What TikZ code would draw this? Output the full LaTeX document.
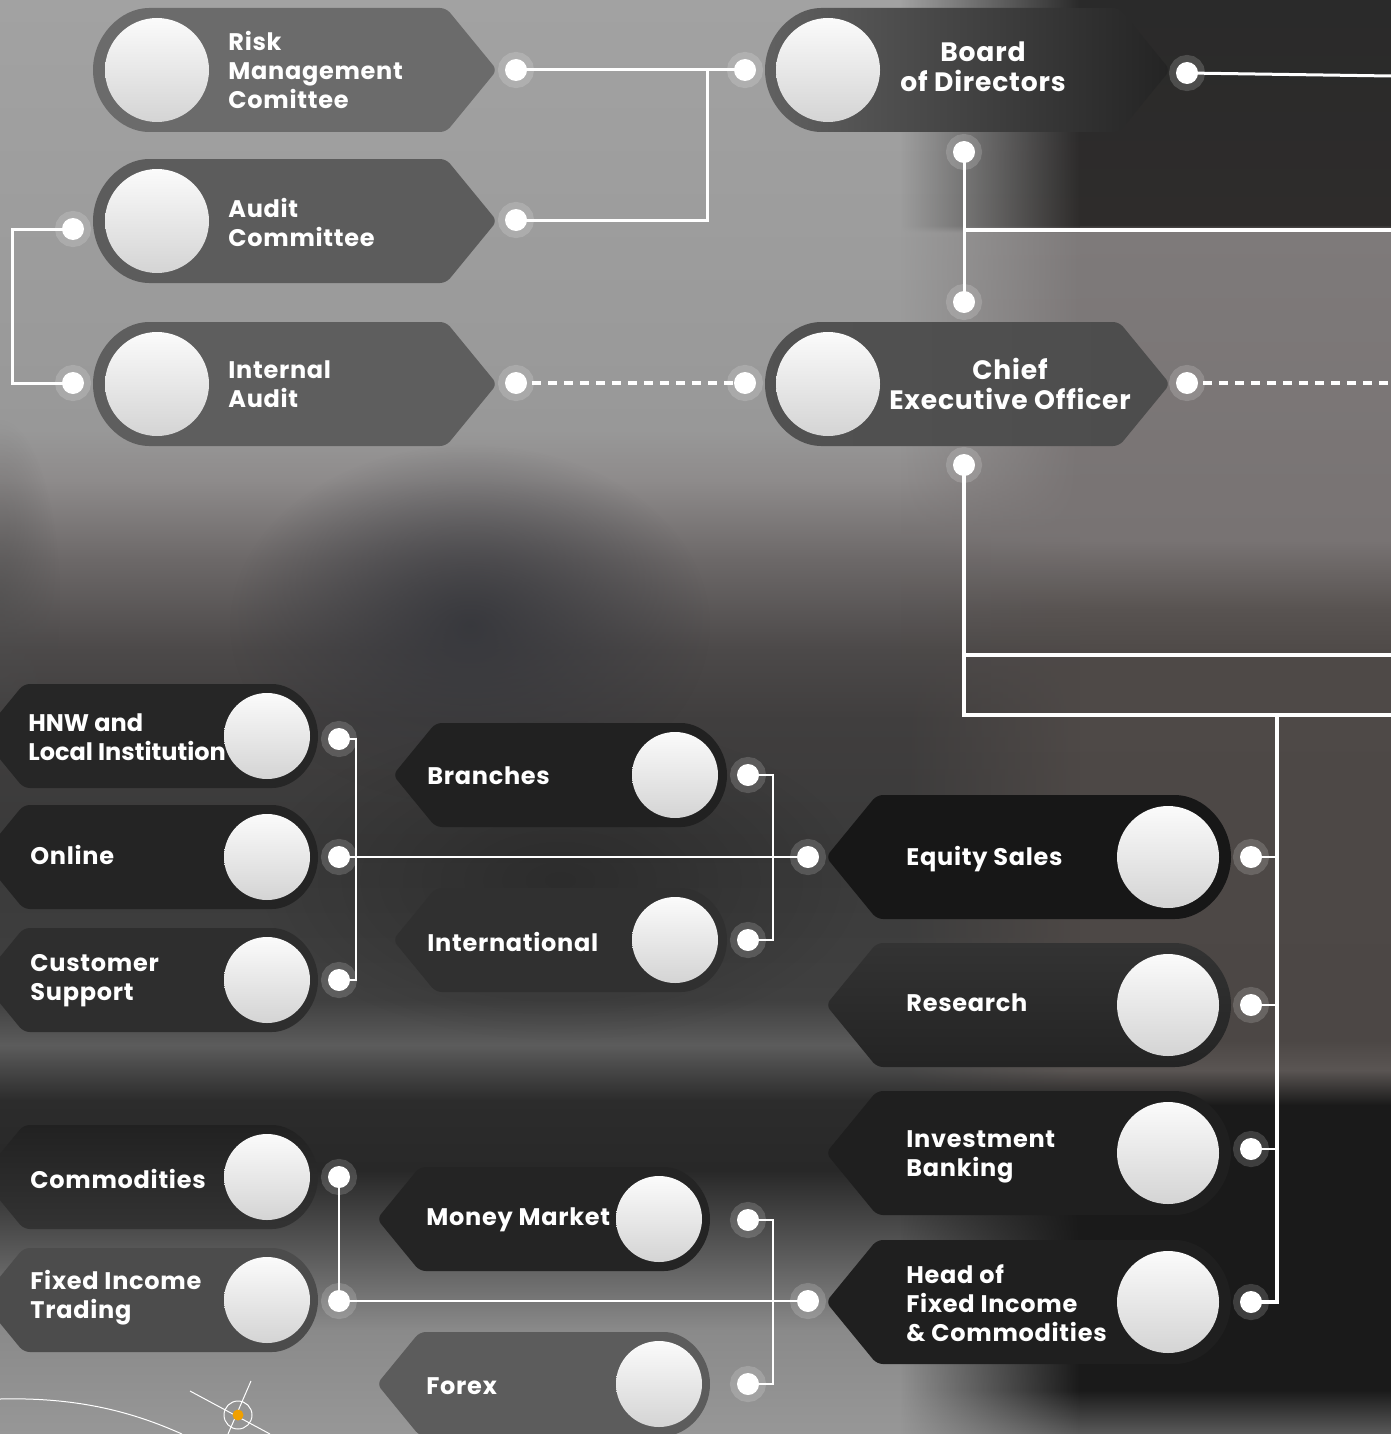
\documentclass[tikz,border=0pt]{standalone}
\usepackage{fontspec}
\setmainfont{Poppins}[LetterSpace=3]
\usetikzlibrary{fadings}
\pgfdeclarelayer{bglayer}
\pgfdeclarelayer{lines}
\pgfsetlayers{bglayer,lines,main}
\definecolor{bgblue}{HTML}{35363B}
\definecolor{discT}{HTML}{FBFBFB}
\definecolor{discB}{HTML}{D4D4D4}
\definecolor{orng}{HTML}{F0A000}
\definecolor{cA0}{HTML}{A2A2A2}\definecolor{cA1}{HTML}{989898}\definecolor{cA2}{HTML}{8E8B8B}
\definecolor{cA3}{HTML}{6C6868}\definecolor{cA4}{HTML}{4C4949}\definecolor{cA5}{HTML}{403E3E}
\definecolor{cA6}{HTML}{3A3A3A}\definecolor{cA7}{HTML}{404040}\definecolor{cA8}{HTML}{5C5C5C}
\definecolor{cA9}{HTML}{2C2C2C}\definecolor{cA10}{HTML}{282828}\definecolor{cA11}{HTML}{5E5E5E}
\definecolor{cA12}{HTML}{8A8A8A}\definecolor{cA13}{HTML}{979797}
\definecolor{cB0}{HTML}{2A2A2A}\definecolor{cB1}{HTML}{2E2C2B}\definecolor{cB2}{HTML}{7E7A7A}
\definecolor{cB3}{HTML}{787373}\definecolor{cB4}{HTML}{585351}\definecolor{cB5}{HTML}{4E4947}
\definecolor{cB6}{HTML}{4C4745}\definecolor{cB7}{HTML}{5A5553}\definecolor{cB8}{HTML}{1A1A1A}
\definecolor{cB9}{HTML}{5A5A5A}
\pgfdeclareverticalshading{colA}{100bp}{color(0bp)=(cA13); color(25bp)=(cA13); color(28.62bp)=(cA12); color(31.07bp)=(cA11); color(34.2bp)=(cA10); color(36.64bp)=(cA9); color(38.56bp)=(cA8); color(40.13bp)=(cA7); color(45.36bp)=(cA6); color(49.9bp)=(cA5); color(52.34bp)=(cA4); color(55.47bp)=(cA3); color(58.26bp)=(cA2); color(60.01bp)=(cA1); color(75bp)=(cA0); color(100bp)=(cA0)}
\pgfdeclareverticalshading{colB}{100bp}{color(0bp)=(cB9); color(25bp)=(cB9); color(26.53bp)=(cB8); color(36.47bp)=(cB8); color(37.69bp)=(cB7); color(38.74bp)=(cB6); color(52.16bp)=(cB5); color(53.73bp)=(cB4); color(56.17bp)=(cB3); color(66.91bp)=(cB2); color(67.15bp)=(cB1); color(75bp)=(cB0); color(100bp)=(cB0)}
\tikzfading[name=rampR, left color=transparent!100, right color=transparent!0]
\tikzfading[name=blobfade, inner color=transparent!0, outer color=transparent!100]
% right-pointing box: L, T, cy, h, style
\newcommand\RBox[5]{\path[#5, rounded corners=3pt] (#2,{-(#3)}) -- ({#2-0.82*#4},{-(#3)-#4}) -- ({#1+#4},{-(#3)-#4}) arc[start angle=270,end angle=90,radius=#4] -- ({#2-0.82*#4},{-(#3)+#4}) -- cycle;}
% left-pointing box: tip, R, cy, h, style
\newcommand\LBox[5]{\path[#5, rounded corners=3pt] (#1,{-(#3)}) -- ({#1+0.82*#4},{-(#3)-#4}) -- ({#2-#4},{-(#3)-#4}) arc[start angle=-90,end angle=90,radius=#4] -- ({#1+0.82*#4},{-(#3)+#4}) -- cycle;}
\newcommand\Disc[3]{\shade[top color=discT, bottom color=discB] (#1,{-(#2)}) circle[radius=#3];}
\tikzset{
  lbl/.style={text=white, font=\bfseries\fontsize{12}{14.5}\selectfont, align=left, inner sep=0pt, anchor=west},
  clbl/.style={text=white, font=\bfseries\fontsize{13.3}{15}\selectfont, align=center, inner sep=0pt},
  dot/.style={circle, fill=white, minimum size=11pt, inner sep=0pt, preaction={draw=white, draw opacity=0.16, line width=7pt}},
  conn/.style={draw=white, line width=1.5pt},
  thinconn/.style={draw=white, line width=1pt},
  dashconn/.style={draw=white, line width=2.2pt, dash pattern=on 4.5pt off 3.5pt},
}
\begin{document}
\begin{tikzpicture}[x=0.5pt,y=0.5pt]
\useasboundingbox (0,0) rectangle (1391,-1434);
\clip (0,0) rectangle (1391,-1434);
\begin{pgfonlayer}{bglayer}
\shade[shading=colA] (0,0) rectangle (1391,-1434);
\shade[shading=colB, path fading=rampR] (900,0) rectangle (1080,-1434);
\shade[shading=colB] (1080,0) rectangle (1391,-1434);
\fill[bgblue, path fading=blobfade, opacity=0.9] (470,-625) ellipse[x radius=240, y radius=180];
\fill[black!70, path fading=blobfade, opacity=0.5] (0,-600) ellipse[x radius=60, y radius=180];
\fill[black, path fading=blobfade, opacity=0.25] (560,-880) ellipse[x radius=300, y radius=160];
\end{pgfonlayer}
% decoration
\draw[white, line width=0.5pt] (0,-1399) .. controls (80,-1397) and (135,-1413) .. (182,-1434);
\draw[white, line width=0.5pt] (238,-1415) circle[radius=14];
\draw[white, line width=0.5pt] (190,-1391) -- (270,-1434);
\draw[white, line width=0.5pt] (251,-1381) -- (228,-1434);
\fill[orng] (238,-1415) circle[radius=5.5];
% ---------- boxes ----------
\RBox{93}{497}{70}{62}{fill=black!58}
\Disc{157}{70}{52}
\RBox{93}{497}{221}{62}{fill=black!64}
\Disc{157}{221}{52}
\RBox{93}{497}{384}{62}{fill=black!63}
\Disc{157}{384}{52}
\RBox{765}{1170}{70}{62}{left color=black!62, right color=black!86}
\Disc{828}{70}{52}
\RBox{765}{1170}{384}{62}{left color=black!68, right color=black!70}
\Disc{828}{384}{52}
\LBox{-19}{318}{736}{52}{fill=black!85}
\Disc{267}{736}{43}
\LBox{-19}{318}{857}{52}{fill=black!86}
\Disc{267}{857}{43}
\LBox{-19}{318}{980}{52}{fill=black!82}
\Disc{267}{980}{43}
\LBox{393}{727}{775}{52}{fill=black!87}
\Disc{675}{775}{43}
\LBox{393}{727}{940}{52}{fill=black!81}
\Disc{675}{940}{43}
\LBox{826}{1231}{857}{62}{fill=black!91}
\Disc{1168}{857}{51}
\LBox{826}{1231}{1005}{62}{top color=black!80, bottom color=black!86}
\Disc{1168}{1005}{51}
\LBox{826}{1231}{1153}{62}{fill=black!88}
\Disc{1168}{1153}{51}
\LBox{826}{1231}{1302}{62}{fill=black!88}
\Disc{1168}{1302}{51}
\LBox{-19}{318}{1177}{52}{top color=black!87, bottom color=black!80}
\Disc{267}{1177}{43}
\LBox{-19}{318}{1300}{52}{fill=black!70}
\Disc{267}{1300}{43}
\LBox{377}{710}{1219}{52}{fill=black!86}
\Disc{659}{1219}{43}
\LBox{377}{710}{1384}{52}{fill=black!64}
\Disc{659}{1384}{43}
% ---------- labels ----------
\node[lbl] (tRisk) at (228,-70) {Risk\\Management\\Comittee};
\node[lbl] (tAudit) at (228,-222) {Audit\\Committee};
\node[lbl] (tInt) at (228,-384) {Internal\\Audit};
\node[clbl] (tBoard) at (983,-67) {Board\\of Directors};
\node[clbl] (tCEO) at (1010,-384) {Chief\\Executive Officer};
\node[lbl, font=\bfseries\fontsize{12}{14.5}\selectfont\addfontfeature{LetterSpace=0}] (tHNW) at (28,-737) {HNW and\\Local Institution};
\node[lbl] (tOnline) at (30,-855) {Online};
\node[lbl] (tCust) at (30,-981) {Customer\\Support};
\node[lbl] (tBranch) at (427,-776) {Branches};
\node[lbl] (tIntl) at (427,-942) {International};
\node[lbl] (tEq) at (906,-859) {Equity Sales};
\node[lbl] (tRes) at (906,-1003) {Research};
\node[lbl] (tInv) at (906,-1157) {Investment\\Banking};
\node[lbl] (tHead) at (906,-1303) {Head of\\Fixed Income\\\& Commodities};
\node[lbl] (tComm) at (30,-1179) {Commodities};
\node[lbl] (tFIT) at (30,-1298) {Fixed Income\\Trading};
\node[lbl] (tMM) at (426,-1220) {Money Market};
\node[lbl] (tFx) at (426,-1386) {Forex};
% ---------- dots ----------
\node[dot] (dRisk) at (516,-70) {};
\node[dot] (dAuditR) at (516,-220) {};
\node[dot] (dAuditL) at (73,-229) {};
\node[dot] (dIntL) at (73,-383) {};
\node[dot] (dIntR) at (516,-383) {};
\node[dot] (dBoardL) at (745,-70) {};
\node[dot] (dBoardR) at (1187,-73) {};
\node[dot] (dBoardB) at (964,-152) {};
\node[dot] (dCEOT) at (964,-302) {};
\node[dot] (dCEOL) at (745,-383) {};
\node[dot] (dCEOR) at (1187,-383) {};
\node[dot] (dCEOB) at (964,-465) {};
\node[dot] (dHNW) at (339,-739) {};
\node[dot] (dOnline) at (339,-857) {};
\node[dot] (dCust) at (339,-980) {};
\node[dot] (dBranch) at (748,-775) {};
\node[dot] (dIntl) at (748,-940) {};
\node[dot] (dEqL) at (808,-857) {};
\node[dot] (dEqR) at (1251,-857) {};
\node[dot] (dRes) at (1251,-1005) {};
\node[dot] (dInv) at (1251,-1149) {};
\node[dot] (dHeadR) at (1251,-1302) {};
\node[dot] (dHeadL) at (808,-1301) {};
\node[dot] (dComm) at (339,-1177) {};
\node[dot] (dFIT) at (339,-1301) {};
\node[dot] (dMM) at (748,-1220) {};
\node[dot] (dFx) at (748,-1384) {};
% ---------- junction coordinates ----------
\coordinate (jA) at (707,-70);
\coordinate (jL1) at (12,-229);
\coordinate (jL2) at (12,-383);
\coordinate (jB) at (964,-230);
\coordinate (eB1) at (1391,-76);
\coordinate (eB2) at (1391,-230);
\coordinate (eC1) at (1391,-383);
\coordinate (jC1) at (964,-655);
\coordinate (eC2) at (1391,-655);
\coordinate (jC2) at (964,-715);
\coordinate (eC3) at (1391,-715);
\coordinate (jR) at (1277,-715);
\coordinate (jG1a) at (356,-739);
\coordinate (jG1b) at (356,-980);
\coordinate (jG2a) at (773,-775);
\coordinate (jG2b) at (773,-940);
\coordinate (jG3a) at (773,-1220);
\coordinate (jG3b) at (773,-1384);
% ---------- connectors ----------
\begin{pgfonlayer}{lines}
\draw[conn] (dRisk.center) -- (dBoardL.center);
\draw[conn] (dAuditR.center) -| (jA);
\draw[conn] (dAuditL.center) -- (jL1) -- (jL2) -- (dIntL.center);
\draw[dashconn] (dIntR.center) -- (dCEOL.center);
\draw[conn] (dBoardB.center) -- (dCEOT.center);
\draw[conn, line width=1.8pt] (jB) -- (eB2);
\draw[conn] (dBoardR.center) -- (eB1);
\draw[dashconn] (dCEOR.center) -- (eC1);
\draw[conn, line width=1.8pt] (dCEOB.center) -- (jC2) -- (eC3);
\draw[conn, line width=1.8pt] (jC1) -- (eC2);
\draw[conn, line width=2pt] (jR) |- (dHeadR.center);
\draw[thinconn] (dEqR.center) -| (jR);
\draw[thinconn] (dRes.center) -- (dRes.center -| jR);
\draw[thinconn] (dInv.center) -- (dInv.center -| jR);
\draw[thinconn] (dHNW.center) -- (jG1a) -- (jG1b) -- (dCust.center);
\draw[conn, line width=1.2pt] (dOnline.center) -- (dEqL.center);
\draw[thinconn] (dBranch.center) -- (jG2a) -- (jG2b) -- (dIntl.center);
\draw[conn, line width=1.2pt] (dComm.center) -- (dFIT.center);
\draw[conn, line width=1.2pt] (dFIT.center) -- (dHeadL.center);
\draw[thinconn] (dMM.center) -- (jG3a) -- (jG3b) -- (dFx.center);
\end{pgfonlayer}
\end{tikzpicture}
\end{document}
